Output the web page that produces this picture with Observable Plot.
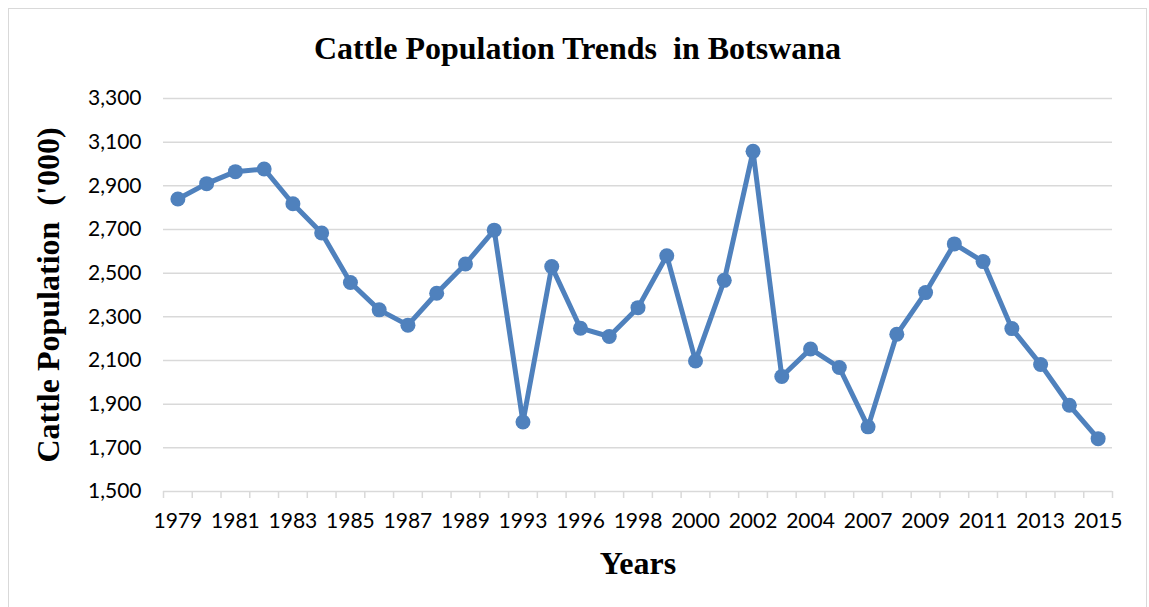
<!DOCTYPE html>
<html>
<head>
<meta charset="utf-8">
<script src="https://cdn.jsdelivr.net/npm/d3@7"></script>
<script src="https://cdn.jsdelivr.net/npm/@observablehq/plot@0.6"></script>
<style>
  html, body { margin: 0; padding: 0; background: #fff; }
  #frame {
    position: absolute; left: 8px; top: 8px;
    width: 1139px; height: 640px;
    box-sizing: border-box;
    border: 1px solid #d9d9d9;
    background: #fff;
  }
  #title {
    position: absolute; left: 0; right: 0; top: 23px;
    text-align: center;
    font-family: "Liberation Serif", "Times New Roman", serif;
    font-weight: bold; font-size: 32px; line-height: 1;
    color: #000;
  }
  #chart { position: absolute; left: 0; top: 71px; }
</style>
</head>
<body>
<div id="frame">
  <div id="title">Cattle Population Trends&nbsp; in Botswana</div>
  <div id="chart"></div>
</div>
<script>
// Survey years (every second one is labelled on the axis)
const years = [
  "1979", "1980", "1981", "1982", "1983", "1984", "1985", "1986", "1987", "1988", "1989",
  "1991", "1993", "1995", "1996", "1997", "1998", "1999", "2000", "2001", "2002", "2003",
  "2004", "2006", "2007", "2008", "2009", "2010", "2011", "2012", "2013", "2014", "2015"
];

// Cattle population, thousands of head
const cattle = [
  2840, 2910, 2965, 2977, 2818, 2684, 2457, 2332, 2262, 2408, 2542,
  2697, 1818, 2530, 2248, 2210, 2342, 2580, 2098, 2467, 3058, 2027,
  2153, 2068, 1796, 2220, 2411, 2634, 2553, 2246, 2082, 1895, 1742
];

const yTicks = [1500, 1700, 1900, 2100, 2300, 2500, 2700, 2900, 3100, 3300];

const rows = years.map((year, i) => ({ i, year, value: cattle[i] }));
const labelIdx = years.map((_, i) => i).filter(i => i % 2 === 0);
const boundaries = d3.range(-0.5, years.length, 1);

const blue = "#4f81bd";
const grid = "#d9d9d9";

const chart = Plot.plot({
  width: 1137,
  height: 520,
  marginTop: 18,
  marginBottom: 109,
  marginLeft: 154,
  marginRight: 34,
  style: { fontFamily: "Lato, sans-serif", color: "#000", background: "transparent" },
  x: { type: "linear", domain: [-0.5, years.length - 0.5] },
  y: { domain: [1500, 3300] },
  marks: [
    Plot.ruleY(yTicks, { stroke: grid, strokeWidth: 1.5 }),
    // category boundary ticks below the axis line
    Plot.axisX({ ticks: boundaries, tickSize: 7, tickFormat: () => "", stroke: grid, strokeWidth: 1.5, label: null }),
    Plot.axisX({
      ticks: labelIdx, tickSize: 0, tickPadding: 22,
      tickFormat: i => years[i], fontSize: 21, label: null
    }),
    Plot.axisY({
      ticks: yTicks, tickSize: 0, tickPadding: 22,
      tickFormat: d3.format(","), fontSize: 21, label: null
    }),
    Plot.line(rows, { x: "i", y: "value", stroke: blue, strokeWidth: 5, strokeLinejoin: "round" }),
    Plot.dot(rows, { x: "i", y: "value", r: 7.5, fill: blue, stroke: "none" }),
    Plot.text(["Cattle Population  ('000)"], {
      frameAnchor: "left", dx: -115, rotate: -90, textAnchor: "middle", lineAnchor: "middle",
      fontFamily: "Liberation Serif, Times New Roman, serif", fontWeight: "bold", fontSize: 32, fill: "#000",
      style: "white-space: pre"
    }),
    Plot.text(["Years"], {
      frameAnchor: "bottom", dy: 72, textAnchor: "middle", lineAnchor: "middle",
      fontFamily: "Liberation Serif, Times New Roman, serif", fontWeight: "bold", fontSize: 32, fill: "#000"
    })
  ]
});

document.getElementById("chart").appendChild(chart);
</script>
</body>
</html>
